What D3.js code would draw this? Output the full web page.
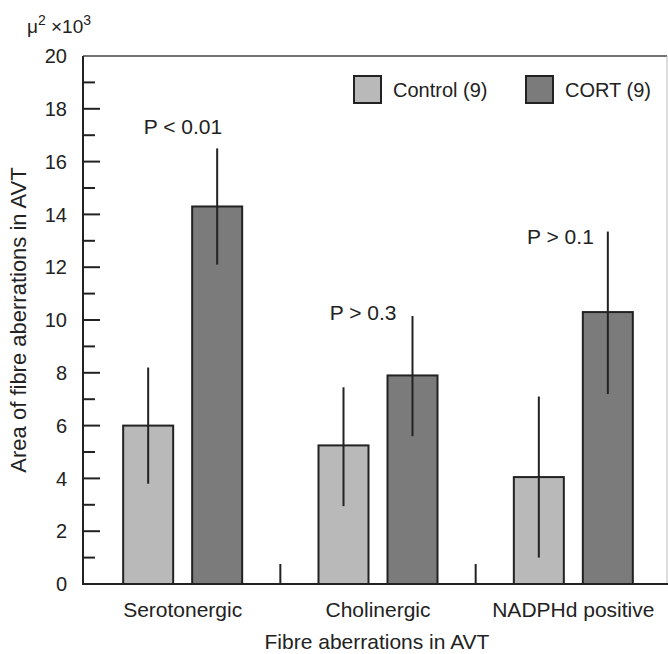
<!DOCTYPE html>
<html>
<head>
<meta charset="utf-8">
<style>
  body { margin: 0; background: white; }
  svg text { font-family: "Liberation Sans", Arial, sans-serif; fill: #222; }
</style>
</head>
<body>
<script src="https://d3js.org/d3.v7.min.js"></script>
<script>

// data (units: µm² x 10^3)
var groups = ["Serotonergic", "Cholinergic", "NADPHd positive"];
var seriesNames = ["Control (9)", "CORT (9)"];
var controlMean = [6.0, 5.25, 4.05];
var controlLow  = [3.8, 2.95, 1.0];
var controlHigh = [8.2, 7.45, 7.1];
var cortMean = [14.3, 7.9, 10.3];
var cortLow  = [12.1, 5.6, 7.2];
var cortHigh = [16.5, 10.15, 13.35];
var pLabels = ["P < 0.01", "P > 0.3", "P > 0.1"];
var pLabelY = [17.05, 10.0, 12.88];
var yTicks = [0, 2, 4, 6, 8, 10, 12, 14, 16, 18, 20];

var width = 668, height = 654;
var colors = ["#b9b9b9", "#7b7b7b"];
var pLabelDx = [5, -16, -14]; // label end relative to CORT bar centre

var svg = d3.select("body").append("svg")
  .attr("width", width)
  .attr("height", height);

var y = d3.scaleLinear().domain([0, 20]).range([584, 56]);
var x = d3.scaleBand().domain(groups).range([85, 671]).padding(0);

// build table of bars
var bars = [];
groups.forEach(function(g, i) {
  bars.push({g: g, s: seriesNames[0], v: controlMean[i], lo: controlLow[i], hi: controlHigh[i]});
  bars.push({g: g, s: seriesNames[1], v: cortMean[i], lo: cortLow[i], hi: cortHigh[i]});
});

function barX(d) {
  return x(d.g) + x.bandwidth() / 2 - 59.5 + (d.s === seriesNames[0] ? 0 : 69);
}

// frame: top and right
svg.append("line")
  .attr("x1", 83).attr("x2", 667).attr("y1", y(20)).attr("y2", y(20))
  .attr("stroke", "#444").attr("stroke-width", 1.5);
svg.append("line")
  .attr("x1", 667).attr("x2", 667).attr("y1", y(20)).attr("y2", y(0))
  .attr("stroke", "#bbb").attr("stroke-width", 1);

// bars
svg.append("g").selectAll("rect").data(bars).enter().append("rect")
  .attr("x", barX)
  .attr("y", function(d) { return y(d.v); })
  .attr("width", 50)
  .attr("height", function(d) { return y(0) - y(d.v); })
  .attr("fill", function(d) { return d.s === seriesNames[0] ? colors[0] : colors[1]; })
  .attr("stroke", "#222")
  .attr("stroke-width", 2);

// error bars
svg.append("g").selectAll("line").data(bars).enter().append("line")
  .attr("x1", function(d) { return barX(d) + 25; })
  .attr("x2", function(d) { return barX(d) + 25; })
  .attr("y1", function(d) { return y(d.hi); })
  .attr("y2", function(d) { return y(d.lo); })
  .attr("stroke", "#222")
  .attr("stroke-width", 2);

// small separators between groups
svg.append("g").selectAll("line").data(groups.slice(1)).enter().append("line")
  .attr("x1", function(d) { return x(d); })
  .attr("x2", function(d) { return x(d); })
  .attr("y1", y(0)).attr("y2", y(0) - 20)
  .attr("stroke", "#222").attr("stroke-width", 2);

// y axis with inward ticks (minor ticks at odd values)
var yAxis = svg.append("g").attr("transform", "translate(83,0)");
yAxis.append("line")
  .attr("x1", 0).attr("x2", 0).attr("y1", y(20)).attr("y2", y(0))
  .attr("stroke", "#222").attr("stroke-width", 2);
yAxis.selectAll("line.major").data(yTicks.slice(1, -1)).enter().append("line")
  .attr("class", "major")
  .attr("x1", 0).attr("x2", 17)
  .attr("y1", function(d) { return y(d); }).attr("y2", function(d) { return y(d); })
  .attr("stroke", "#222").attr("stroke-width", 2);
yAxis.selectAll("line.minor").data(d3.range(1, 20, 2)).enter().append("line")
  .attr("class", "minor")
  .attr("x1", 0).attr("x2", 12)
  .attr("y1", function(d) { return y(d); }).attr("y2", function(d) { return y(d); })
  .attr("stroke", "#222").attr("stroke-width", 2);
yAxis.selectAll("text").data(yTicks).enter().append("text")
  .attr("x", -16)
  .attr("y", function(d) { return y(d); })
  .attr("dy", "0.36em")
  .attr("text-anchor", "end")
  .style("font-size", "20px")
  .text(function(d) { return d; });

// x axis baseline
svg.append("line")
  .attr("x1", 82).attr("x2", 668).attr("y1", y(0)).attr("y2", y(0))
  .attr("stroke", "#222").attr("stroke-width", 2);

// category labels
svg.append("g").selectAll("text").data(groups).enter().append("text")
  .attr("x", function(d) { return x(d) + x.bandwidth() / 2; })
  .attr("y", 617)
  .attr("text-anchor", "middle")
  .style("font-size", "21px")
  .text(function(d) { return d; });

svg.append("text")
  .attr("x", 377).attr("y", 649)
  .attr("text-anchor", "middle")
  .style("font-size", "21px")
  .text("Fibre aberrations in AVT");

svg.append("text")
  .attr("transform", "translate(26,320) rotate(-90)")
  .attr("text-anchor", "middle")
  .style("font-size", "22px")
  .text("Area of fibre aberrations in AVT");

// unit label
var unit = svg.append("text").attr("x", 27).attr("y", 33).style("font-size", "19px");
unit.append("tspan").text("\u03bc");
unit.append("tspan").attr("dy", -8).style("font-size", "14px").text("2");
unit.append("tspan").attr("dy", 8).text(" \u00d710");
unit.append("tspan").attr("dy", -8).style("font-size", "14px").text("3");

// P value labels
svg.append("g").selectAll("text").data(groups).enter().append("text")
  .attr("x", function(d, i) { return x(d) + x.bandwidth() / 2 + 34.5 + pLabelDx[i]; })
  .attr("y", function(d, i) { return y(pLabelY[i]); })
  .attr("text-anchor", "end")
  .style("font-size", "21px")
  .text(function(d, i) { return pLabels[i]; });

// legend
var legend = svg.append("g").selectAll("g").data(seriesNames).enter().append("g")
  .attr("transform", function(d, i) { return "translate(354," + 76 + ") translate(" + (i * 172) + ",0)"; });
legend.append("rect")
  .attr("width", 27).attr("height", 27)
  .attr("fill", function(d, i) { return colors[i]; })
  .attr("stroke", "#222").attr("stroke-width", 2);
legend.append("text")
  .attr("x", 39).attr("y", 14).attr("dy", "0.36em")
  .style("font-size", "20px")
  .text(function(d) { return d; });

</script>
</body>
</html>
